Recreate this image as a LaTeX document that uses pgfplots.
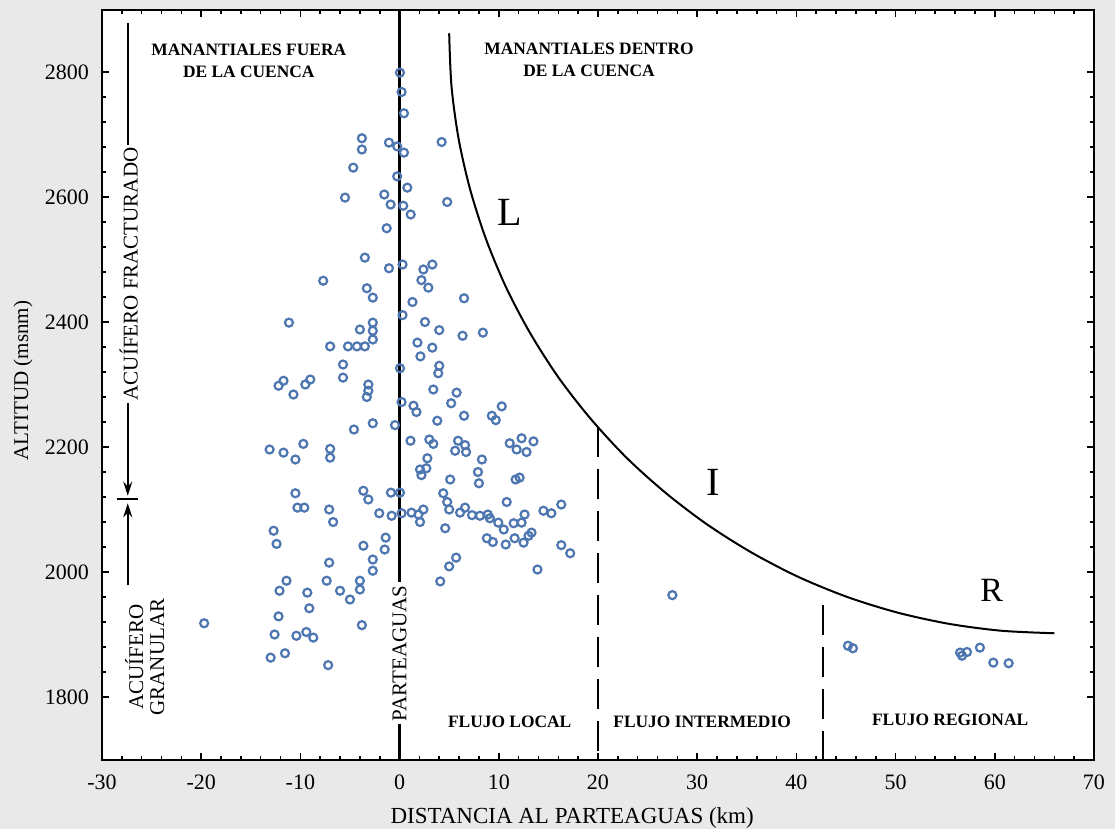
\documentclass[border=0pt]{standalone}
\usepackage{fontspec}
\setmainfont{Liberation Serif}
\usepackage{pgfplots}
\pgfplotsset{compat=1.18}
\usetikzlibrary{arrows.meta,backgrounds}
\definecolor{manantial}{RGB}{78,118,176}
\definecolor{papel}{RGB}{233,233,233}

\newcommand{\rotulo}{\fontsize{8.7}{11}\selectfont\bfseries}

\begin{document}
\begin{tikzpicture}
\begin{axis}[
  scale only axis, width=496pt, height=375pt,
  xmin=-30, xmax=70, ymin=1700, ymax=2900,
  clip=false,
  axis background/.style={fill=white},
  axis line style={line width=1pt},
  xtick={-30,-20,...,70}, ytick={1800,2000,...,2800},
  minor x tick num=4, minor y tick num=4,
  tick align=inside,
  major tick length=3.5pt, minor tick length=2pt,
  tick style={black, line width=0.8pt},
  /pgf/number format/assume math mode=true,
  /pgf/number format/1000 sep={},
  tick label style={font=\fontsize{11}{13}\selectfont},
  xticklabel style={yshift=-4pt},
  yticklabel style={xshift=-3pt},
  xlabel={DISTANCIA AL PARTEAGUAS (km)},
  ylabel={ALTITUD (msnm)},
  xlabel style={at={(axis description cs:0.474,-0.078)}, anchor=center, font=\fontsize{11.5}{13}\selectfont},
  ylabel style={at={(axis description cs:-0.0796,0.505)}, anchor=center, font=\fontsize{10.5}{12}\selectfont},
]
% limites de la figura
\coordinate (bl) at (rel axis cs:-0.1028,-0.0927);
\coordinate (tr) at (rel axis cs:1.0212,1.0127);

% parteaguas
\draw[line width=1.1pt] (axis cs:0,1700) -- (axis cs:0,2900);
\node[fill=white, inner sep=1.5pt, rotate=90, font=\fontsize{10.5}{12}\selectfont] at (axis cs:0,1870) {PARTEAGUAS};

% acuiferos
\draw[line width=0.8pt, -{Stealth[length=7pt,width=4.5pt]}] (axis cs:-27.4,2878) -- (axis cs:-27.4,2122);
\node[fill=white, inner sep=1.5pt, rotate=90, font=\fontsize{10.5}{12}\selectfont] at (axis cs:-27.3,2477) {ACUÍFERO FRACTURADO};
\draw[line width=0.8pt] (axis cs:-28.5,2117) -- (axis cs:-26.4,2117);
\draw[line width=0.8pt, -{Stealth[length=7pt,width=4.5pt]}] (axis cs:-27.4,1979) -- (axis cs:-27.4,2110);
\node[rotate=90, align=center, inner sep=0pt, font=\fontsize{10.5}{10.5}\selectfont] at (axis cs:-25.7,1864) {ACUÍFERO\\GRANULAR};

% limite de manantiales (L, I, R)
\addplot[black, line width=1pt, smooth, no marks] coordinates {
  (5.00,2862) (5.23,2778) (5.93,2695) (7.08,2614) (8.68,2534) (10.72,2456)
  (13.17,2382) (16.03,2311) (19.27,2245) (22.87,2183) (26.79,2127) (31.01,2076)
  (35.50,2031) (40.22,1992) (45.14,1960) (50.21,1935) (55.41,1917) (60.68,1906)
  (66.00,1902)
};
\draw[line width=0.9pt, dash pattern=on 15pt off 6pt] (axis cs:20,2232) -- (axis cs:20,1700);
\draw[line width=0.9pt, dash pattern=on 15pt off 6pt] (axis cs:42.7,1947) -- (axis cs:42.7,1700);

% manantiales
\addplot[only marks, mark=o, mark size=2pt, draw=manantial, line width=1.1pt] coordinates {
  (-3.8,2694) (-3.8,2676) (-1.07,2687) (-0.24,2681) (0.44,2671) (-4.67,2647)
  (-5.5,2599) (-1.54,2604) (-0.9,2588) (-1.3,2550) (-3.5,2503) (-1.07,2486)
  (-7.7,2466) (-3.3,2454) (-2.7,2439) (-11.15,2399) (-2.7,2399) (-4.0,2388)
  (-2.7,2386) (-2.7,2372) (-7.0,2361) (-5.2,2361) (-4.3,2361) (-3.5,2361)
  (-5.7,2332) (-5.7,2311) (-12.2,2298) (-11.7,2306) (-10.7,2284) (-9.5,2300)
  (-9.0,2308) (-3.15,2300) (-3.15,2290) (-3.3,2280) (-4.6,2228) (-2.7,2238)
  (-0.46,2235) (-13.1,2196) (-11.7,2191) (-9.7,2205) (-10.5,2180) (-7.0,2197)
  (-7.0,2183) (-10.5,2126) (-10.3,2103) (-9.6,2103) (-7.1,2100) (-6.7,2080)
  (-3.65,2130) (-3.15,2116) (-0.87,2127) (0.04,2127) (-2.05,2094) (-0.8,2090)
  (0.2,2094) (-12.7,2066) (-12.4,2045) (-1.4,2055) (-1.5,2036) (-3.65,2042)
  (-2.7,2020) (-2.7,2002) (-7.1,2015) (-11.4,1986) (-12.1,1970) (-9.3,1967)
  (-9.1,1942) (-7.35,1986) (-6.0,1970) (-5.0,1956) (-4.0,1986) (-4.0,1972)
  (-19.7,1918) (-12.2,1929) (-12.6,1900) (-10.4,1898) (-9.4,1904) (-8.7,1895)
  (-3.8,1915) (-13.0,1863) (-11.55,1870) (-7.2,1851)
  (0.04,2799) (0.2,2768) (0.44,2734) (4.24,2688) (-0.24,2633) (0.78,2615)
  (0.37,2586) (1.12,2572) (4.8,2592) (0.3,2492) (3.3,2492) (2.4,2484)
  (2.2,2467) (2.9,2455) (1.3,2432) (6.5,2438) (0.3,2411) (2.56,2400)
  (4.0,2387) (6.35,2378) (8.4,2383) (1.8,2367) (3.3,2359) (2.1,2345)
  (4.0,2330) (0.04,2326) (3.9,2318) (3.4,2292) (5.75,2287) (5.2,2270)
  (0.2,2272) (1.4,2266) (1.7,2256) (6.5,2250) (10.3,2265) (9.3,2250)
  (9.7,2243) (3.8,2242) (1.1,2210) (3.0,2212) (3.4,2205) (5.9,2210)
  (6.6,2203) (5.6,2194) (6.7,2192) (11.1,2206) (11.8,2196) (12.3,2214)
  (12.8,2192) (13.5,2209) (2.8,2182) (2.7,2166) (2.06,2164) (2.2,2155)
  (8.3,2180) (7.9,2160) (8.0,2142) (5.1,2148) (11.7,2148) (12.1,2151)
  (4.4,2126) (4.8,2112) (5.0,2100) (10.8,2112) (16.3,2108) (14.5,2098)
  (15.3,2094) (1.2,2095) (2.4,2100) (1.9,2092) (2.06,2080) (6.1,2095)
  (6.6,2103) (7.3,2091) (8.1,2090) (8.9,2092) (9.1,2086) (9.95,2079)
  (10.5,2068) (11.5,2078) (12.6,2092) (12.3,2079) (4.6,2070) (8.8,2054)
  (9.4,2048) (10.7,2044) (11.6,2054) (12.5,2047) (13.0,2058) (13.3,2063)
  (16.3,2043) (17.2,2030) (5.7,2023) (5.0,2009) (4.1,1985) (13.9,2004)
  (27.5,1963) (45.2,1882) (45.7,1878) (56.7,1866) (57.2,1872) (56.5,1871)
  (58.5,1879) (59.85,1855) (61.4,1854)
};

% rotulos
\node[align=center, font=\rotulo] at (axis cs:-15.2,2818) {MANANTIALES FUERA\\DE LA CUENCA};
\node[align=center, font=\rotulo] at (axis cs:19.1,2819) {MANANTIALES DENTRO\\DE LA CUENCA};
\node[font=\rotulo] at (axis cs:11.1,1760) {FLUJO LOCAL};
\node[font=\rotulo] at (axis cs:30.5,1760) {FLUJO INTERMEDIO};
\node[font=\rotulo] at (axis cs:55.5,1763) {FLUJO REGIONAL};
\node[font=\fontsize{20}{22}\selectfont] at (axis cs:11.1,2576) {L};
\node[font=\fontsize{20}{22}\selectfont] at (axis cs:31.6,2144) {I};
\node[font=\fontsize{17}{19}\selectfont] at (axis cs:59.7,1971) {R};
\end{axis}
\begin{scope}[on background layer]
  \fill[papel] (bl) rectangle (tr);
\end{scope}
\pgfresetboundingbox
\path[use as bounding box] (bl) rectangle (tr);
\end{tikzpicture}
\end{document}
